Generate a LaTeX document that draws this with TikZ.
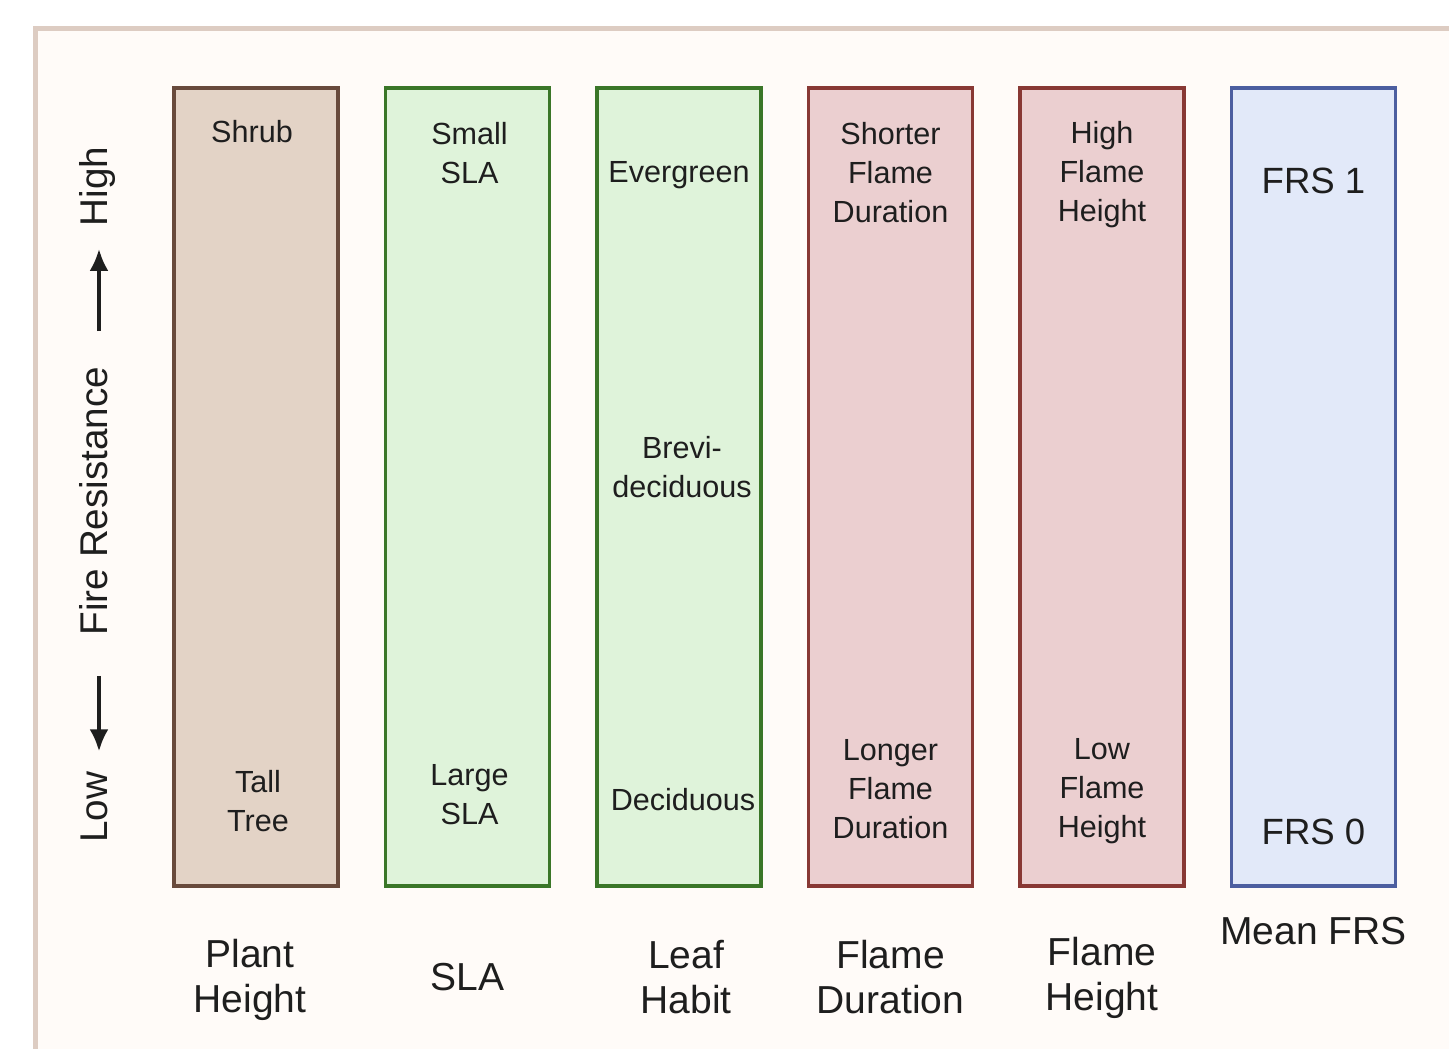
\documentclass[tikz,border=0pt]{standalone}
\usepackage{fontspec}
\setmainfont{Liberation Sans}
\usetikzlibrary{arrows.meta,positioning}
\definecolor{panelfill}{RGB}{255,251,248}
\definecolor{paneledge}{RGB}{221,204,194}
\definecolor{barkbrown}{RGB}{104,74,60}
\definecolor{barkfill}{RGB}{227,211,198}
\definecolor{leafgreen}{RGB}{58,118,40}
\definecolor{leaffill}{RGB}{223,243,218}
\definecolor{flamered}{RGB}{136,56,52}
\definecolor{flamefill}{RGB}{235,207,208}
\definecolor{frsblue}{RGB}{76,94,160}
\definecolor{frsfill}{RGB}{226,233,249}
\definecolor{inkgrey}{RGB}{30,30,30}
\tikzset{
 traitbar/.style={
 rectangle,
 line width=1pt,
 minimum width=1.64cm,
 minimum height=7.98cm,
 inner sep=0pt,
 outer sep=0pt
 },
 plantbar/.style={traitbar, draw=barkbrown, fill=barkfill},
 leafbar/.style={traitbar, draw=leafgreen, fill=leaffill},
 flamebar/.style={traitbar, draw=flamered, fill=flamefill},
 frsbar/.style={traitbar, draw=frsblue, fill=frsfill},
 barlabel/.style={
 align=center,
 inner sep=0pt,
 text=inkgrey,
 font=\fontsize{8.7}{11.1}\selectfont
 },
 scorelabel/.style={inner sep=0pt, text=inkgrey, font=\fontsize{10.4}{12}\selectfont},
 traitname/.style={
 align=center,
 inner sep=0pt,
 text=inkgrey,
 font=\fontsize{11.1}{13}\selectfont
 },
 axislabel/.style={
 rotate=90,
 inner sep=0pt,
 text height=0.72em,
 text depth=0.21em,
 text=inkgrey,
 font=\fontsize{11}{13}\selectfont
 },
 axisarrow/.style={-{Latex[length=2.2mm,width=1.9mm]}, line width=1pt, draw=inkgrey}
}

\begin{document}
\begin{tikzpicture}[node distance=0.475cm]
	\useasboundingbox (0,0) rectangle (14.49,-10.49);
	\draw[paneledge, fill=panelfill, line width=1.4pt] (0.355,-0.285) rectangle (14.8,-10.8);

	% trait bars
	\node[plantbar] (ph) at (2.56,-4.87) {};
	\node[leafbar, right=of ph] (sla) {};
	\node[leafbar, right=of sla] (habit) {};
	\node[flamebar, right=of habit] (dur) {};
	\node[flamebar, right=of dur] (fh) {};
	\node[frsbar, right=of fh] (frs) {};

	% ends of each bar
	\node[barlabel] (shrub) at ([xshift=-0.04cm,yshift=-0.44cm]ph.north) {Shrub};
	\node[barlabel] (tall) at ([xshift=0.02cm,yshift=0.85cm]ph.south) {Tall\\Tree};
	\node[barlabel] (small) at ([xshift=0.02cm,yshift=-0.655cm]sla.north) {Small\\SLA};
	\node[barlabel] (large) at ([xshift=0.02cm,yshift=0.91cm]sla.south) {Large\\SLA};
	\node[barlabel] (ever) at ([yshift=-0.87cm]habit.north) {Evergreen};
	\node[barlabel] (brevi) at ([xshift=0.03cm,yshift=0.2cm]habit.center) {Brevi-\\deciduous};
	\node[barlabel] (decid) at ([xshift=0.04cm,yshift=0.86cm]habit.south) {Deciduous};
	\node[barlabel] (short) at ([yshift=-0.85cm]dur.north) {Shorter\\Flame\\Duration};
	\node[barlabel] (long) at ([yshift=0.97cm]dur.south) {Longer\\Flame\\Duration};
	\node[barlabel] (highfh) at ([yshift=-0.87cm]fh.north) {High\\Flame\\Height};
	\node[barlabel] (lowfh) at ([yshift=0.95cm]fh.south) {Low\\Flame\\Height};
	\node[scorelabel] (frs1) at ([yshift=-0.93cm]frs.north) {FRS 1};
	\node[scorelabel] (frs0) at ([yshift=0.54cm]frs.south) {FRS 0};

	% trait names
	\node[traitname] (phname) at ([xshift=-0.06cm,yshift=-0.94cm]ph.south) {Plant\\Height};
	\node[traitname] (slaname) at ([yshift=-0.91cm]sla.south) {SLA};
	\node[traitname] (habitname) at ([xshift=0.07cm,yshift=-0.91cm]habit.south) {Leaf\\Habit};
	\node[traitname] (durname) at ([yshift=-0.91cm]dur.south) {Flame\\Duration};
	\node[traitname] (fhname) at ([yshift=-0.92cm]fh.south) {Flame\\Height};
	\node[traitname] (frsname) at ([yshift=-0.45cm]frs.south) {Mean FRS};

	% fire resistance axis
	\node[axislabel] (high) at (0.99,-1.865) {High};
	\node[axislabel] (fire) at (0.99,-5.01) {Fire Resistance};
	\node[axislabel] (low) at (0.99,-8.075) {Low};
	\draw[axisarrow, shorten <=3.5mm, shorten >=2.2mm] (fire.east) -- (high.west);
	\draw[axisarrow, shorten <=4mm, shorten >=2mm] (fire.west) -- (low.east);
\end{tikzpicture}
\end{document}
